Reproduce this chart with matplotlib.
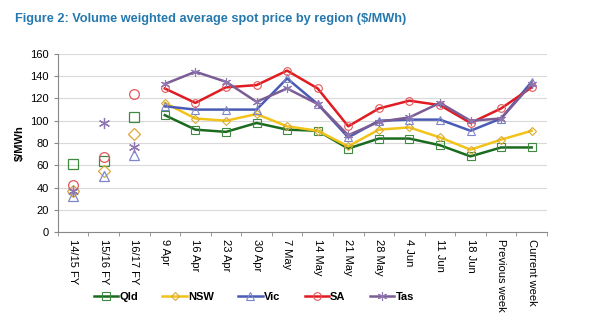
import numpy as np
import matplotlib
matplotlib.use("Agg")
import matplotlib.pyplot as plt

plt.rcParams['font.family'] = ['Liberation Sans', 'DejaVu Sans']

# categories
fy_labels = ["14/15 FY", "15/16 FY", "16/17 FY"]
week_labels = ["9 Apr", "16 Apr", "23 Apr", "30 Apr", "7 May", "14 May", "21 May",
               "28 May", "4 Jun", "11 Jun", "18 Jun", "Previous week", "Current week"]

# financial year averages (markers only)
qld_fy = [61, 64, 103]
nsw_fy = [37, 55, 88]
vic_fy = [32, 50, 69]
sa_fy = [42, 67, 124]
tas_fy = [37, 98, 76]

# weekly values
qld_wk = [105, 92, 90, 98, 92, 91, 75, 84, 84, 78, 68, 76, 76]
nsw_wk = [116, 102, 100, 106, 95, 91, 77, 92, 94, 85, 74, 83, 91]
vic_wk = [113, 110, 110, 110, 138, 115, 85, 100, 101, 101, 91, 102, 135]
sa_wk = [129, 116, 130, 132, 145, 129, 95, 111, 118, 114, 98, 111, 130]
tas_wk = [133, 144, 135, 117, 129, 115, 87, 99, 103, 116, 100, 102, 133]

regions = ["Qld", "NSW", "Vic", "SA", "Tas"]
line_cols = ["#1b6b1f", "#f2c318", "#4a5bb5", "#e01b22", "#7b5c94"]
mark_cols = ["#3f8a42", "#d9a93a", "#7d86c8", "#e2575a", "#8e76b0"]
markers = ["s", "D", "^", "o", (6, 2, 0)]
msizes = [5.5, 4.5, 5.5, 5.5, 6.5]
fy_data = [qld_fy, nsw_fy, vic_fy, sa_fy, tas_fy]
wk_data = [qld_wk, nsw_wk, vic_wk, sa_wk, tas_wk]

fig = plt.figure(figsize=(5.9, 3.21), dpi=100)
ax = fig.add_axes([0.098, 0.277, 0.829, 0.555])

x_fy = np.arange(len(fy_labels))
x_wk = np.arange(len(week_labels)) + len(fy_labels)

for name, lc, mc, m, ms, fy, wk in zip(regions, line_cols, mark_cols, markers, msizes, fy_data, wk_data):
    ax.plot(x_fy, fy, linestyle="none", marker=m, markersize=ms + 1.5,
            markerfacecolor="none", markeredgecolor=mc, markeredgewidth=0.9)
    ax.plot(x_wk, wk, color=lc, linewidth=1.8, marker=m, markersize=ms,
            markerfacecolor="none", markeredgecolor=mc, markeredgewidth=0.8, label=name)

all_labels = fy_labels + week_labels
n = len(all_labels)
ax.set_xlim(-0.5, n - 0.5)
ax.set_ylim(0, 160)
ax.set_yticks(range(0, 161, 20))
ax.set_xticks(range(n))
ax.set_xticklabels(all_labels, rotation=-90, fontsize=8, va="top")
ax.set_xticks(np.arange(-0.5, n, 1), minor=True)
ax.tick_params(axis="x", which="major", length=0, pad=5)
ax.tick_params(axis="x", which="minor", length=3, color="#888888")
ax.tick_params(axis="y", labelsize=8, length=3, color="#888888")

ax.grid(axis="y", color="#d9d9d9", linewidth=0.8)
ax.set_axisbelow(True)
for s in ["top", "right"]:
    ax.spines[s].set_visible(False)
for s in ["left", "bottom"]:
    ax.spines[s].set_color("#888888")

ax.set_ylabel("$/MWh", fontsize=8, fontweight="bold", labelpad=4)

fig.text(0.025, 0.94, "Figure 2: Volume weighted average spot price by region ($/MWh)",
         fontsize=9.2, fontweight="bold", color="#2478ad", va="center")

leg = fig.legend(loc="center", bbox_to_anchor=(0.43, 0.075), ncol=5, frameon=False,
                 fontsize=8, handlelength=2.2, columnspacing=2.2, handletextpad=0.1)
for t in leg.get_texts():
    t.set_fontweight("bold")

plt.savefig("out.png", dpi=100)
